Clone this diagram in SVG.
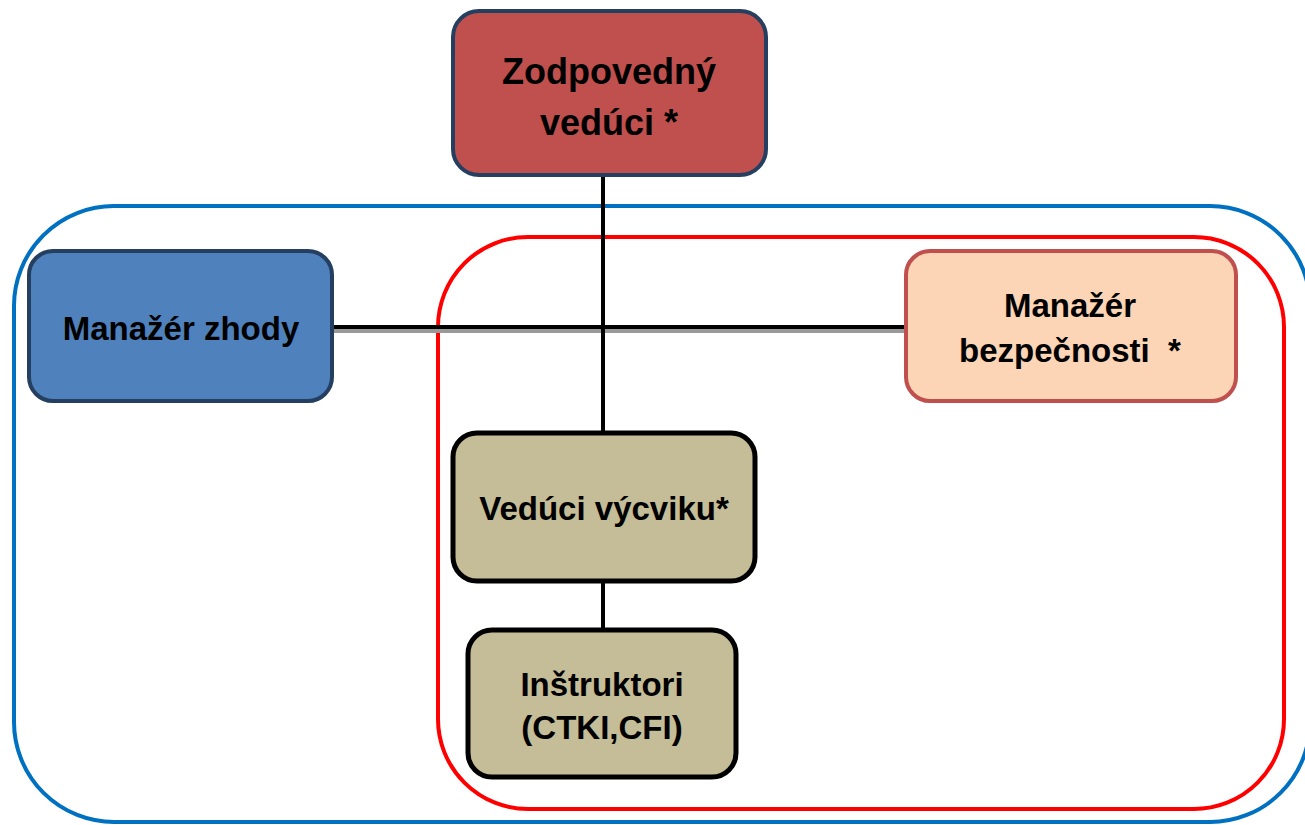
<svg xmlns="http://www.w3.org/2000/svg" width="1305" height="825" viewBox="0 0 1305 825">
<style>
.t{font-family:"Liberation Sans",Arial,sans-serif;font-weight:bold;fill:#000;text-anchor:middle}
.c{stroke:#000;stroke-width:4;fill:none}
</style>
<rect width="1305" height="825" fill="#fff"/>
<g id="containers">
<rect x="14" y="206" width="1296" height="616" rx="100" fill="none" stroke="#0070C0" stroke-width="4"/>
<rect x="438" y="237" width="846" height="572" rx="90" fill="none" stroke="#FF0000" stroke-width="4"/>
</g>
<g id="connectors">
<line x1="333" y1="331" x2="905" y2="331" stroke="#999" stroke-width="4"/>
<line x1="333" y1="327" x2="905" y2="327" class="c"/>
<line x1="603" y1="175" x2="603" y2="433" class="c"/>
<line x1="603" y1="582" x2="603" y2="630" class="c"/>
</g>
<g id="zodpovedny">
<rect x="453" y="11" width="313" height="164" rx="26" fill="#C0504D" stroke="#243F60" stroke-width="4"/>
<text class="t" x="609" y="84" font-size="36">Zodpovedný</text>
<text class="t" x="609" y="135" font-size="36">vedúci *</text>
</g>
<g id="manazer-zhody">
<rect x="29" y="251" width="303" height="150" rx="24" fill="#4F81BD" stroke="#243F60" stroke-width="4"/>
<text class="t" x="181" y="340" font-size="33">Manažér zhody</text>
</g>
<g id="manazer-bezpecnosti">
<rect x="906" y="251" width="330" height="150" rx="24" fill="#FBD5B5" stroke="#C0504D" stroke-width="4"/>
<text class="t" x="1070" y="317" font-size="33">Manažér</text>
<text class="t" x="1070" y="362" font-size="33" xml:space="preserve">bezpečnosti  *</text>
</g>
<g id="veduci-vycviku">
<rect x="453" y="433" width="302" height="148" rx="24" fill="#C4BD97" stroke="#000" stroke-width="5"/>
<text class="t" x="604" y="520" font-size="33">Vedúci výcviku*</text>
</g>
<g id="instruktori">
<rect x="468" y="630" width="268" height="147" rx="24" fill="#C4BD97" stroke="#000" stroke-width="5"/>
<text class="t" x="602" y="696" font-size="33">Inštruktori</text>
<text class="t" x="602" y="739" font-size="33">(CTKI,CFI)</text>
</g>
</svg>
